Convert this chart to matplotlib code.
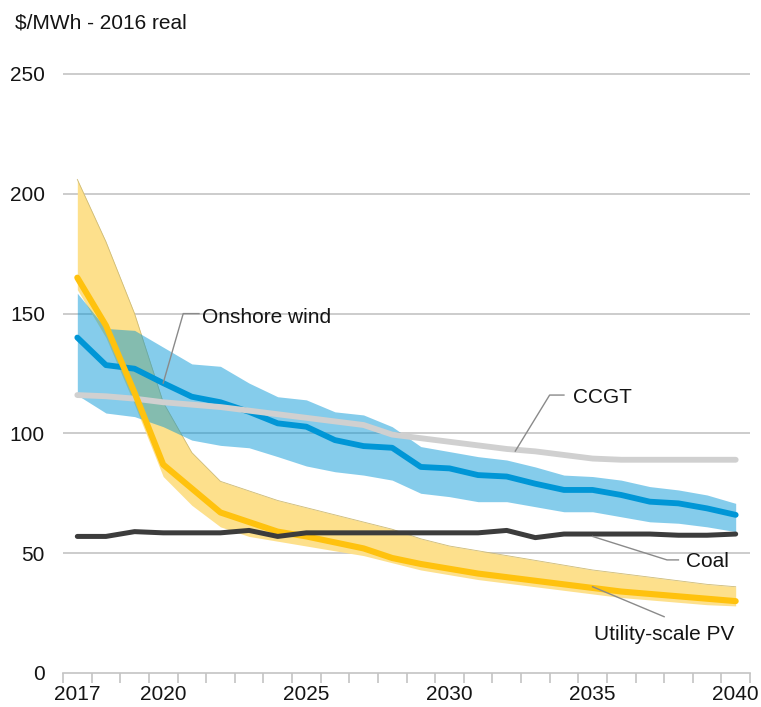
import numpy as np
import matplotlib
matplotlib.use("Agg")
import matplotlib.pyplot as plt

plt.rcParams['font.family'] = ['Liberation Sans', 'DejaVu Sans']

# ------------------------ data ------------------------
years = list(range(2017, 2041))

pv_mid = [165, 145, 117, 87, 77, 67, 63, 59, 57, 54.5, 52, 48, 45.5, 43.5,
          41.5, 40, 38.5, 37, 35.5, 34, 33, 32, 31, 30]
pv_high = [206, 180, 150, 113, 92, 80, 76, 72, 69, 66, 63, 60, 56, 53,
           51, 49, 47, 45, 43, 41.5, 40, 38.5, 37, 36]
pv_low = [160, 140, 112, 82, 70, 61, 57, 55, 53, 51, 49, 46, 43, 41,
          39, 37.5, 36, 34.5, 33, 31.5, 30.5, 29.5, 28.5, 28]

wind_mid = [140, 128.5, 127, 121, 115.3, 113, 109, 104.2, 102.8, 97.2, 94.7, 94,
            86, 85.4, 82.6, 82, 79, 76.4, 76.4, 74.3, 71.5, 70.8, 68.7, 66]
wind_high = [158.5, 143.8, 143, 136, 129, 128, 121, 115.3, 114, 109, 107.7, 102.8,
             94.5, 92.4, 90.3, 88.9, 86, 82.6, 82, 80.5, 77.8, 76.4, 74.3, 70.8]
wind_low = [116, 108.5, 107, 102.8, 97.2, 95, 94, 90.3, 86.4, 84, 82.6, 80.5,
            75, 73.6, 71.5, 71.5, 69.4, 67.3, 67.3, 65.2, 63.1, 62.5, 61, 59]

ccgt = [116, 115.5, 114.5, 113, 112, 111, 109.5, 108, 106.5, 105, 103.5, 99.5,
        98, 96.5, 95, 93.5, 92.5, 91, 89.5, 89, 89, 89, 89, 89]

coal = [57, 57, 59, 58.5, 58.5, 58.5, 59.5, 57, 58.5, 58.5, 58.5, 58.5,
        58.5, 58.5, 58.5, 59.5, 56.5, 58, 58, 58, 58, 57.5, 57.5, 58]

label_years = [2017, 2020, 2025, 2030, 2035, 2040]
y_ticks = [0, 50, 100, 150, 200, 250]

# ------------------------ colours ------------------------
c_pv, c_pv_band = '#FFC20E', '#FDE08C'
c_wind = '#0096D6'
c_ccgt = '#D0D0D0'
c_coal = '#3C3C3C'
c_grid = '#C4C4C4'
c_text = '#141414'
c_lead = '#8A8A8A'

# ------------------------ figure ------------------------
fig = plt.figure(figsize=(7.61, 7.07), dpi=100)
ax = fig.add_axes([63 / 761, 1 - 673 / 707, (750 - 63) / 761, (673 - 71.6) / 707])

x = np.array(years)

ax.fill_between(x, pv_low, pv_high, color=c_pv_band, lw=0, zorder=2)
ax.plot(x, pv_high, color='#CDBB78', lw=0.6, zorder=2)
ax.fill_between(x, wind_low, wind_high, color=c_wind, alpha=0.48, lw=0, zorder=3)

line_kw = dict(solid_capstyle='round', solid_joinstyle='round')
ax.plot(x, wind_mid, color=c_wind, lw=4.2, zorder=4, **line_kw)
ax.plot(x, ccgt, color=c_ccgt, lw=4.2, zorder=5, **line_kw)
ax.plot(x, pv_mid, color=c_pv, lw=4.4, zorder=6, **line_kw)
ax.plot(x, coal, color=c_coal, lw=3.6, zorder=7, **line_kw)

# axes
ax.set_xlim(2016.5, 2040.5)
ax.set_ylim(0, 251)
for s in ['top', 'right', 'left']:
    ax.spines[s].set_visible(False)
ax.spines['bottom'].set_color(c_grid)
ax.spines['bottom'].set_linewidth(1.2)

ax.set_yticks(y_ticks)
ax.set_yticklabels([str(v) for v in y_ticks])
ax.tick_params(axis='y', length=0, pad=13, labelsize=15, labelcolor=c_text)
for v in y_ticks[1:]:
    ax.axhline(v, color=c_grid, lw=1.2, zorder=1)

ax.set_xticks(label_years)
ax.set_xticklabels([str(v) for v in label_years])
ax.set_xticks(np.arange(2016.5, 2041, 1.0), minor=True)
ax.tick_params(axis='x', which='major', length=0, pad=9, labelsize=15, labelcolor=c_text)
ax.tick_params(axis='x', which='minor', length=7, width=1.2, color=c_grid)

# labels with leader lines
lead = dict(color=c_lead, lw=1.0, zorder=8)
txt = dict(fontsize=15, color=c_text, va='baseline', zorder=9)

ax.plot([2020.0, 2020.7, 2021.25], [121, 150, 150], **lead)
ax.text(2021.35, 146, 'Onshore wind', ha='left', **txt)

ax.plot([2032.3, 2033.5, 2034.0], [92.6, 116, 116], **lead)
ax.text(2034.3, 112.7, 'CCGT', ha='left', **txt)

ax.plot([2035.0, 2037.6, 2038.0], [57, 47.2, 47.2], **lead)
ax.text(2038.25, 44.2, 'Coal', ha='left', **txt)

ax.plot([2035.0, 2037.5], [36, 23.5], **lead)
ax.text(2037.5, 13.8, 'Utility-scale PV', ha='center', **txt)

fig.text(15 / 761, 1 - 28 / 707, '$/MWh - 2016 real', fontsize=15,
         color=c_text, ha='left', va='baseline')

fig.savefig('out.png', dpi=100)
